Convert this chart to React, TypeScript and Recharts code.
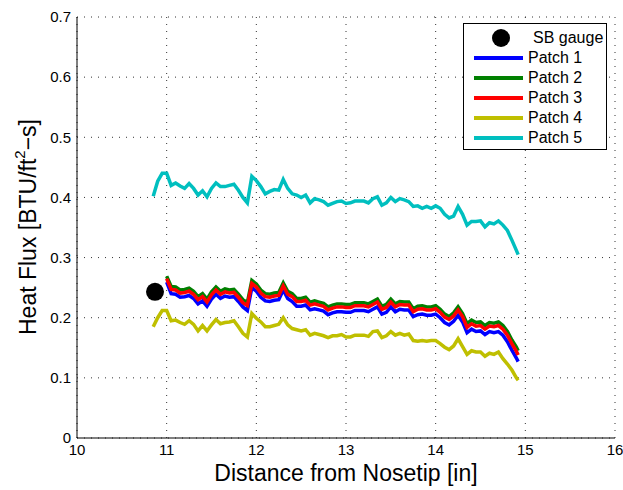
import {
    ComposedChart,
    Line,
    Scatter,
    XAxis,
    YAxis,
    CartesianGrid,
} from "recharts";

// distance from nosetip [in], shared by all patch series
const distance = [
    10.85, 10.9, 10.95, 11, 11.05, 11.1, 11.15, 11.2, 11.25, 11.3,
    11.35, 11.4, 11.45, 11.5, 11.55, 11.6, 11.65, 11.7, 11.75, 11.8,
    11.85, 11.9, 11.95, 12, 12.05, 12.1, 12.15, 12.2, 12.25, 12.3,
    12.35, 12.4, 12.45, 12.5, 12.55, 12.6, 12.65, 12.7, 12.75, 12.8,
    12.85, 12.9, 12.95, 13, 13.05, 13.1, 13.15, 13.2, 13.25, 13.3,
    13.35, 13.4, 13.45, 13.5, 13.55, 13.6, 13.65, 13.7, 13.75, 13.8,
    13.85, 13.9, 13.95, 14, 14.05, 14.1, 14.15, 14.2, 14.25, 14.3,
    14.35, 14.4, 14.45, 14.5, 14.55, 14.6, 14.65, 14.7, 14.75, 14.8,
    14.85, 14.9, 14.92,
];

const patch1 = [
    null, null, null, 0.259, 0.24, 0.239, 0.234, 0.235, 0.237, 0.232,
    0.223, 0.228, 0.219, 0.231, 0.239, 0.232, 0.236, 0.234, 0.235, 0.227,
    0.218, 0.212, 0.25, 0.244, 0.234, 0.228, 0.227, 0.229, 0.23, 0.246,
    0.232, 0.227, 0.219, 0.219, 0.221, 0.213, 0.215, 0.213, 0.211, 0.205,
    0.208, 0.21, 0.21, 0.209, 0.209, 0.212, 0.212, 0.212, 0.21, 0.214,
    0.218, 0.206, 0.209, 0.218, 0.21, 0.214, 0.213, 0.213, 0.202, 0.205,
    0.206, 0.204, 0.204, 0.206, 0.2, 0.192, 0.188, 0.194, 0.204, 0.193,
    0.175, 0.181, 0.177, 0.178, 0.172, 0.177, 0.175, 0.177, 0.171, 0.16,
    0.146, 0.133, 0.127,
];

const patch2 = [
    null, null, null, 0.269, 0.252, 0.251, 0.246, 0.247, 0.249, 0.244,
    0.235, 0.24, 0.231, 0.243, 0.251, 0.244, 0.248, 0.246, 0.247, 0.239,
    0.23, 0.225, 0.262, 0.256, 0.246, 0.24, 0.239, 0.241, 0.242, 0.258,
    0.244, 0.24, 0.232, 0.232, 0.234, 0.226, 0.228, 0.226, 0.224, 0.218,
    0.221, 0.223, 0.223, 0.222, 0.222, 0.225, 0.225, 0.225, 0.223, 0.227,
    0.231, 0.219, 0.222, 0.231, 0.223, 0.227, 0.226, 0.226, 0.215, 0.219,
    0.22, 0.218, 0.218, 0.22, 0.214, 0.206, 0.202, 0.208, 0.218, 0.207,
    0.19, 0.196, 0.192, 0.193, 0.187, 0.192, 0.191, 0.193, 0.187, 0.177,
    0.163, 0.151, 0.145,
];

const patch3 = [
    null, null, null, 0.265, 0.247, 0.246, 0.241, 0.242, 0.244, 0.239,
    0.23, 0.235, 0.226, 0.238, 0.246, 0.239, 0.243, 0.241, 0.242, 0.234,
    0.225, 0.22, 0.257, 0.251, 0.241, 0.235, 0.234, 0.236, 0.237, 0.253,
    0.239, 0.235, 0.227, 0.227, 0.229, 0.221, 0.223, 0.221, 0.219, 0.213,
    0.216, 0.218, 0.218, 0.217, 0.217, 0.22, 0.22, 0.22, 0.218, 0.222,
    0.226, 0.214, 0.217, 0.226, 0.218, 0.222, 0.221, 0.221, 0.21, 0.214,
    0.215, 0.213, 0.213, 0.215, 0.209, 0.201, 0.197, 0.203, 0.213, 0.202,
    0.184, 0.19, 0.186, 0.187, 0.181, 0.186, 0.185, 0.187, 0.181, 0.171,
    0.157, 0.144, 0.138,
];

const patch4 = [
    0.185, 0.2, 0.212, 0.212, 0.195, 0.196, 0.192, 0.189, 0.195, 0.189,
    0.178, 0.187, 0.178, 0.188, 0.197, 0.19, 0.192, 0.193, 0.195, 0.185,
    0.174, 0.168, 0.207, 0.199, 0.193, 0.185, 0.185, 0.187, 0.189, 0.2,
    0.188, 0.182, 0.18, 0.178, 0.18, 0.171, 0.174, 0.172, 0.17, 0.167,
    0.17, 0.17, 0.172, 0.168, 0.168, 0.171, 0.171, 0.171, 0.169, 0.177,
    0.178, 0.167, 0.17, 0.177, 0.171, 0.174, 0.171, 0.173, 0.162, 0.161,
    0.162, 0.161, 0.162, 0.162, 0.157, 0.151, 0.147, 0.153, 0.165, 0.152,
    0.139, 0.145, 0.143, 0.143, 0.136, 0.141, 0.139, 0.143, 0.132, 0.123,
    0.113, 0.1, 0.096,
];

const patch5 = [
    0.402, 0.427, 0.44, 0.44, 0.42, 0.424, 0.419, 0.415, 0.423, 0.415,
    0.404, 0.411, 0.401, 0.415, 0.424, 0.418, 0.418, 0.42, 0.422, 0.412,
    0.4, 0.391, 0.435, 0.428, 0.418, 0.406, 0.41, 0.413, 0.412, 0.43,
    0.415, 0.406, 0.404, 0.4, 0.404, 0.391, 0.398, 0.396, 0.393, 0.387,
    0.39, 0.393, 0.394, 0.39, 0.391, 0.394, 0.394, 0.394, 0.391, 0.398,
    0.401, 0.387, 0.391, 0.4, 0.393, 0.398, 0.396, 0.393, 0.385, 0.386,
    0.382, 0.385, 0.382, 0.386, 0.382, 0.372, 0.366, 0.369, 0.385, 0.372,
    0.354, 0.36, 0.36, 0.361, 0.351, 0.358, 0.356, 0.361, 0.354, 0.345,
    0.329, 0.312, 0.305,
];

// single SB gauge measurement
const gaugeX = [10.87];
const gaugeY = [0.243];

const xTicks = [10, 11, 12, 13, 14, 15, 16];
const yTicks = [0, 0.1, 0.2, 0.3, 0.4, 0.5, 0.6, 0.7];

const SERIES = [
    { key: "p1", name: "Patch 1", color: "#0000FF" },
    { key: "p2", name: "Patch 2", color: "#008000" },
    { key: "p3", name: "Patch 3", color: "#FF0000" },
    { key: "p4", name: "Patch 4", color: "#BFBF00" },
    { key: "p5", name: "Patch 5", color: "#00BFBF" },
];

const FONT = "'Liberation Sans', Arial, Helvetica, sans-serif";

const rows = distance.map((x, i) => ({
    x,
    p1: patch1[i],
    p2: patch2[i],
    p3: patch3[i],
    p4: patch4[i],
    p5: patch5[i],
}));

const gauge = gaugeX.map((x, i) => ({ x, y: gaugeY[i] }));

function YLabel() {
    return (
        <text
            x={28}
            y={227}
            transform="rotate(-90 28 227)"
            textAnchor="middle"
            dominantBaseline="central"
            fontSize={23}
            fontFamily={FONT}
            fill="#000"
        >
            Heat Flux [BTU/ft
            <tspan dy={-9} fontSize={15}>2</tspan>
            <tspan dy={9}>−s]</tspan>
        </text>
    );
}

function LegendBox() {
    return (
        <div
            style={{
                position: "absolute",
                left: 463,
                top: 23,
                width: 142,
                height: 125,
                border: "1px solid #000",
                background: "#fff",
                fontFamily: FONT,
                fontSize: 16,
                boxSizing: "content-box",
            }}
        >
            <div style={{ display: "flex", alignItems: "center", height: 20, marginTop: 4 }}>
                <div style={{ width: 64, display: "flex", justifyContent: "center", paddingLeft: 5 }}>
                    <div style={{ width: 18, height: 18, borderRadius: 9, background: "#000" }} />
                </div>
                <span>SB gauge</span>
            </div>
            {SERIES.map((s) => (
                <div key={s.key} style={{ display: "flex", alignItems: "center", height: 20 }}>
                    <div style={{ width: 64, display: "flex", alignItems: "center" }}>
                        <div style={{ marginLeft: 10, width: 49, height: 3.5, background: s.color }} />
                    </div>
                    <span>{s.name}</span>
                </div>
            ))}
        </div>
    );
}

export default function App() {
    return (
        <div style={{ position: "absolute", left: 0, top: 0, width: 623, height: 490, background: "#fff" }}>
            <ComposedChart
                width={623}
                height={490}
                data={rows}
                margin={{ top: 17, right: 8, left: 0, bottom: 0 }}
            >
                <CartesianGrid stroke="#333" strokeDasharray="1 6" />
                <XAxis
                    dataKey="x"
                    type="number"
                    domain={[10, 16]}
                    ticks={xTicks}
                    height={52}
                    tickLine={false}
                    tickSize={4}
                    tickMargin={2}
                    axisLine={{ stroke: "#000" }}
                    tick={{ fill: "#000", fontSize: 15, fontFamily: FONT }}
                    label={{
                        value: "Distance from Nosetip [in]",
                        position: "insideBottom",
                        offset: 9,
                        fill: "#000",
                        fontSize: 23,
                        fontFamily: FONT,
                    }}
                />
                <YAxis
                    type="number"
                    domain={[0, 0.7]}
                    ticks={yTicks}
                    width={77}
                    tickLine={false}
                    tickSize={4}
                    tickMargin={2}
                    axisLine={{ stroke: "#000" }}
                    tick={{ fill: "#000", fontSize: 15, fontFamily: FONT }}
                    tickFormatter={(v) => String(v)}
                    label={{ content: () => <YLabel /> }}
                />
                <Scatter
                    data={gauge}
                    dataKey="y"
                    isAnimationActive={false}
                    shape={(p: any) => <circle cx={p.cx} cy={p.cy} r={9} fill="#000" />}
                />
                {SERIES.map((s) => (
                    <Line
                        key={s.key}
                        dataKey={s.key}
                        name={s.name}
                        type="linear"
                        stroke={s.color}
                        strokeWidth={3.5}
                        dot={false}
                        activeDot={false}
                        isAnimationActive={false}
                    />
                ))}
            </ComposedChart>
            <LegendBox />
        </div>
    );
}
